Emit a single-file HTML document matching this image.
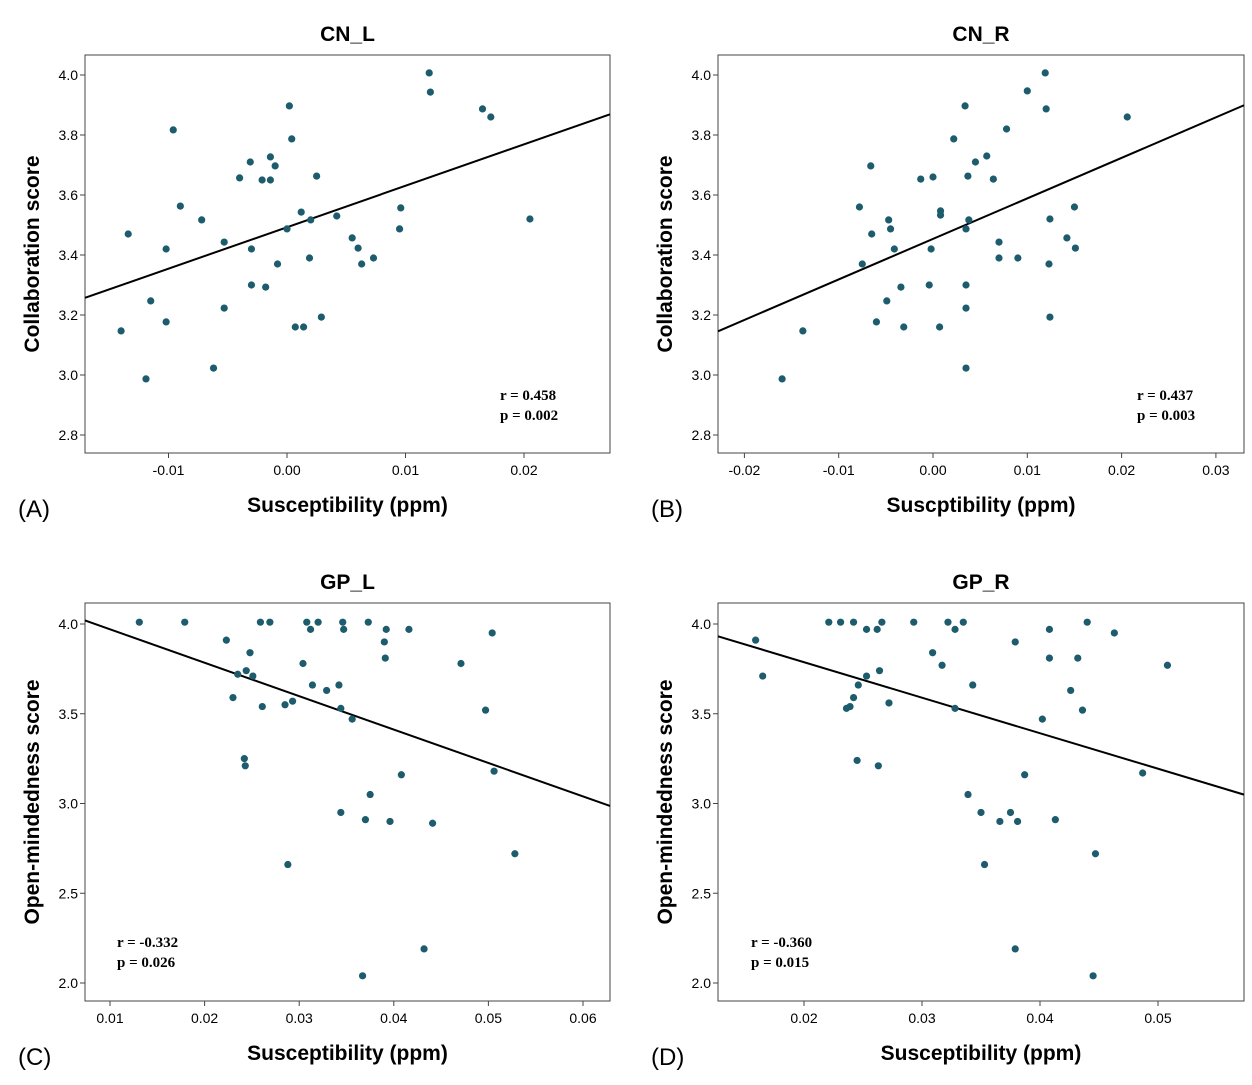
<!DOCTYPE html>
<html><head><meta charset="utf-8"><style>
html,body{margin:0;padding:0;background:#fff;}
svg text{font-family:"Liberation Sans",sans-serif;}
</style></head><body>
<svg id="fig" width="1252" height="1080" xmlns="http://www.w3.org/2000/svg"></svg>
<script>
// Panel A data (CN_L)
const aX=[-0.0140,-0.0134,-0.0119,-0.0115,-0.0102,-0.0102,-0.0096,-0.0090,-0.0072,-0.0053,-0.0053,-0.0040,-0.0031,-0.0030,-0.0030,-0.0021,-0.0018,-0.0014,-0.0014,-0.0010,-0.0008,0.0000,0.0002,0.0004,0.0007,0.0012,0.0014,0.0019,0.0020,0.0025,0.0029,0.0042,0.0055,0.0060,0.0063,0.0073,0.0096,0.0095,0.0120,0.0121,0.0165,0.0172,0.0205,-0.0062];
const aY=[3.147,3.47,2.987,3.247,3.42,3.177,3.817,3.563,3.517,3.443,3.223,3.657,3.71,3.42,3.30,3.65,3.293,3.65,3.727,3.697,3.37,3.487,3.897,3.787,3.16,3.543,3.16,3.39,3.517,3.663,3.193,3.53,3.457,3.423,3.37,3.39,3.557,3.487,4.007,3.943,3.887,3.86,3.52,3.023];
// Panel B data (CN_R)
const bX=[-0.0160,-0.0138,-0.0078,-0.0075,-0.0066,-0.0065,-0.0060,-0.0049,-0.0047,-0.0045,-0.0041,-0.0034,-0.0031,-0.0013,-0.0004,-0.0002,0.0000,0.0007,0.0008,0.0008,0.0022,0.0034,0.0035,0.0035,0.0035,0.0035,0.0037,0.0038,0.0045,0.0057,0.0064,0.0070,0.0070,0.0078,0.0090,0.0100,0.0119,0.0120,0.0123,0.0124,0.0124,0.0142,0.0150,0.0151,0.0206];
const bY=[2.987,3.147,3.56,3.37,3.697,3.47,3.177,3.247,3.517,3.487,3.42,3.293,3.16,3.653,3.30,3.42,3.66,3.16,3.547,3.533,3.787,3.897,3.487,3.30,3.223,3.023,3.663,3.517,3.71,3.73,3.653,3.443,3.39,3.82,3.39,3.947,4.007,3.887,3.37,3.52,3.193,3.457,3.56,3.423,3.86];
// Panel C data (GP_L)
const cX=[0.0131,0.0179,0.0223,0.0230,0.0235,0.0242,0.0243,0.0244,0.0248,0.0251,0.0259,0.0261,0.0269,0.0285,0.0288,0.0293,0.0304,0.0308,0.0312,0.0314,0.0320,0.0329,0.0342,0.0344,0.0344,0.0346,0.0347,0.0356,0.0370,0.0373,0.0375,0.0390,0.0391,0.0392,0.0396,0.0408,0.0416,0.0441,0.0432,0.0367,0.0471,0.0497,0.0504,0.0506,0.0528];
const cY=[4.01,4.01,3.91,3.59,3.72,3.25,3.21,3.74,3.84,3.71,4.01,3.54,4.01,3.55,2.66,3.57,3.78,4.01,3.97,3.66,4.01,3.63,3.66,2.95,3.53,4.01,3.97,3.47,2.91,4.01,3.05,3.90,3.81,3.97,2.90,3.16,3.97,2.89,2.19,2.04,3.78,3.52,3.95,3.18,2.72];
// Panel D data (GP_R)
const dX=[0.0159,0.0165,0.0221,0.0231,0.0236,0.0239,0.0242,0.0242,0.0245,0.0246,0.0253,0.0253,0.0262,0.0263,0.0264,0.0266,0.0272,0.0293,0.0309,0.0317,0.0322,0.0328,0.0328,0.0335,0.0339,0.0343,0.0350,0.0353,0.0366,0.0375,0.0379,0.0379,0.0381,0.0387,0.0402,0.0408,0.0408,0.0413,0.0426,0.0432,0.0436,0.0440,0.0447,0.0445,0.0463,0.0487,0.0508];
const dY=[3.91,3.71,4.01,4.01,3.53,3.54,3.59,4.01,3.24,3.66,3.71,3.97,3.97,3.21,3.74,4.01,3.56,4.01,3.84,3.77,4.01,3.97,3.53,4.01,3.05,3.66,2.95,2.66,2.90,2.95,3.90,2.19,2.90,3.16,3.47,3.97,3.81,2.91,3.63,3.81,3.52,4.01,2.72,2.04,3.95,3.17,3.77];

const aTicks=["-0.01","0.00","0.01","0.02"];
const bTicks=["-0.02","-0.01","0.00","0.01","0.02","0.03"];
const cTicks=["0.01","0.02","0.03","0.04","0.05","0.06"];
const dTicks=["0.02","0.03","0.04","0.05"];
const abYTicks=["4.0","3.8","3.6","3.4","3.2","3.0","2.8"];
const cdYTicks=["4.0","3.5","3.0","2.5","2.0"];

const NS="http://www.w3.org/2000/svg";
const svg=document.getElementById('fig');
function el(tag,attrs,parent){const e=document.createElementNS(NS,tag);for(const k in attrs)e.setAttribute(k,attrs[k]);(parent||svg).appendChild(e);return e;}

function panel(cfg){
  const g=el('g',{});
  
  
  const L=cfg.box[0],T=cfg.box[1],R=cfg.box[2],B=cfg.box[3];
  const sx=v=>cfg.x0+(v-cfg.xv0)*cfg.xs;
  const sy=v=>cfg.y0-(v-cfg.yv0)*cfg.ys;
  const fr=el('rect',{x:L,y:T,width:R-L,height:B-T,fill:'none',stroke:'#444','stroke-width':1},g);
  
  
  cfg.xt.forEach(t=>{const px=sx(parseFloat(t));
    el('line',{x1:px,y1:B,x2:px,y2:B+5,stroke:'#444'},g);
    const tx=el('text',{x:px,y:B+22,'text-anchor':'middle','font-size':14},g);tx.textContent=t;
    
    });
  cfg.yt.forEach(t=>{const py=sy(parseFloat(t));
    el('line',{x1:L-5,y1:py,x2:L,y2:py,stroke:'#444'},g);
    const tx=el('text',{x:L-7,y:py+5,'text-anchor':'end','font-size':14},g);tx.textContent=t;
    
    });
  const n=cfg.xd.length;let mx=0,my=0;for(let i=0;i<n;i++){mx+=cfg.xd[i];my+=cfg.yd[i];}mx/=n;my/=n;
  let sxy=0,sxx=0;for(let i=0;i<n;i++){sxy+=(cfg.xd[i]-mx)*(cfg.yd[i]-my);sxx+=(cfg.xd[i]-mx)**2;}
  const m=sxy/sxx,b=my-m*mx;
  const xl=cfg.xv0+(L-cfg.x0)/cfg.xs, xr=cfg.xv0+(R-cfg.x0)/cfg.xs;
  const ln=el('line',{x1:L,y1:sy(m*xl+b),x2:R,y2:sy(m*xr+b),stroke:'#000','stroke-width':2},g);
  
  
  for(let i=0;i<n;i++){const c=el('circle',{cx:sx(cfg.xd[i]),cy:sy(cfg.yd[i]),r:3.6,fill:'#1d5c6c'},g);
    
    }
  const ti=el('text',{x:(L+R)/2,y:T-14,'text-anchor':'middle','font-size':21,'font-weight':'bold'},g);ti.textContent=cfg.title;
  
  
  const xa=el('text',{x:(L+R)/2,y:B+59,'text-anchor':'middle','font-size':21,'font-weight':'bold'},g);xa.textContent=cfg.xlab;
  
  
  const ya=el('text',{x:0,y:0,'text-anchor':'middle','font-size':21,'font-weight':'bold',transform:`translate(${L-46},${(T+B)/2}) rotate(-90)`},g);ya.textContent=cfg.ylab;
  
  
  const lb=el('text',{x:L-67,y:B+64,'font-size':24},g);lb.textContent=cfg.label;
  
  
  cfg.stats.forEach((s,i)=>{const st=el('text',{x:cfg.sxPos,y:cfg.syPos+i*20,style:'font-family:"Liberation Serif",serif;font-size:15px;font-weight:bold'},g);st.textContent=s;
    
    });
}
panel({id:'a',box:[85,55,610,453],x0:287,xv0:0,xs:11850,y0:75,yv0:4.0,ys:300,xt:aTicks,yt:abYTicks,xd:aX,yd:aY,title:'CN_L',xlab:'Susceptibility (ppm)',ylab:'Collaboration score',label:'(A)',stats:['r = 0.458','p = 0.002'],sxPos:500,syPos:400});
panel({id:'b',box:[718,55,1244,453],x0:933,xv0:0,xs:9430,y0:75,yv0:4.0,ys:300,xt:bTicks,yt:abYTicks,xd:bX,yd:bY,title:'CN_R',xlab:'Suscptibility (ppm)',ylab:'Collaboration score',label:'(B)',stats:['r = 0.437','p = 0.003'],sxPos:1137,syPos:400});
panel({id:'c',box:[85,603,610,1001],x0:110,xv0:0.01,xs:9460,y0:624,yv0:4.0,ys:179.5,xt:cTicks,yt:cdYTicks,xd:cX,yd:cY,title:'GP_L',xlab:'Susceptibility (ppm)',ylab:'Open-mindedness score',label:'(C)',stats:['r = -0.332','p = 0.026'],sxPos:117,syPos:947});
panel({id:'d',box:[718,603,1244,1001],x0:804,xv0:0.02,xs:11800,y0:624,yv0:4.0,ys:179.5,xt:dTicks,yt:cdYTicks,xd:dX,yd:dY,title:'GP_R',xlab:'Susceptibility (ppm)',ylab:'Open-mindedness score',label:'(D)',stats:['r = -0.360','p = 0.015'],sxPos:751,syPos:947});
</script>
</body></html>
